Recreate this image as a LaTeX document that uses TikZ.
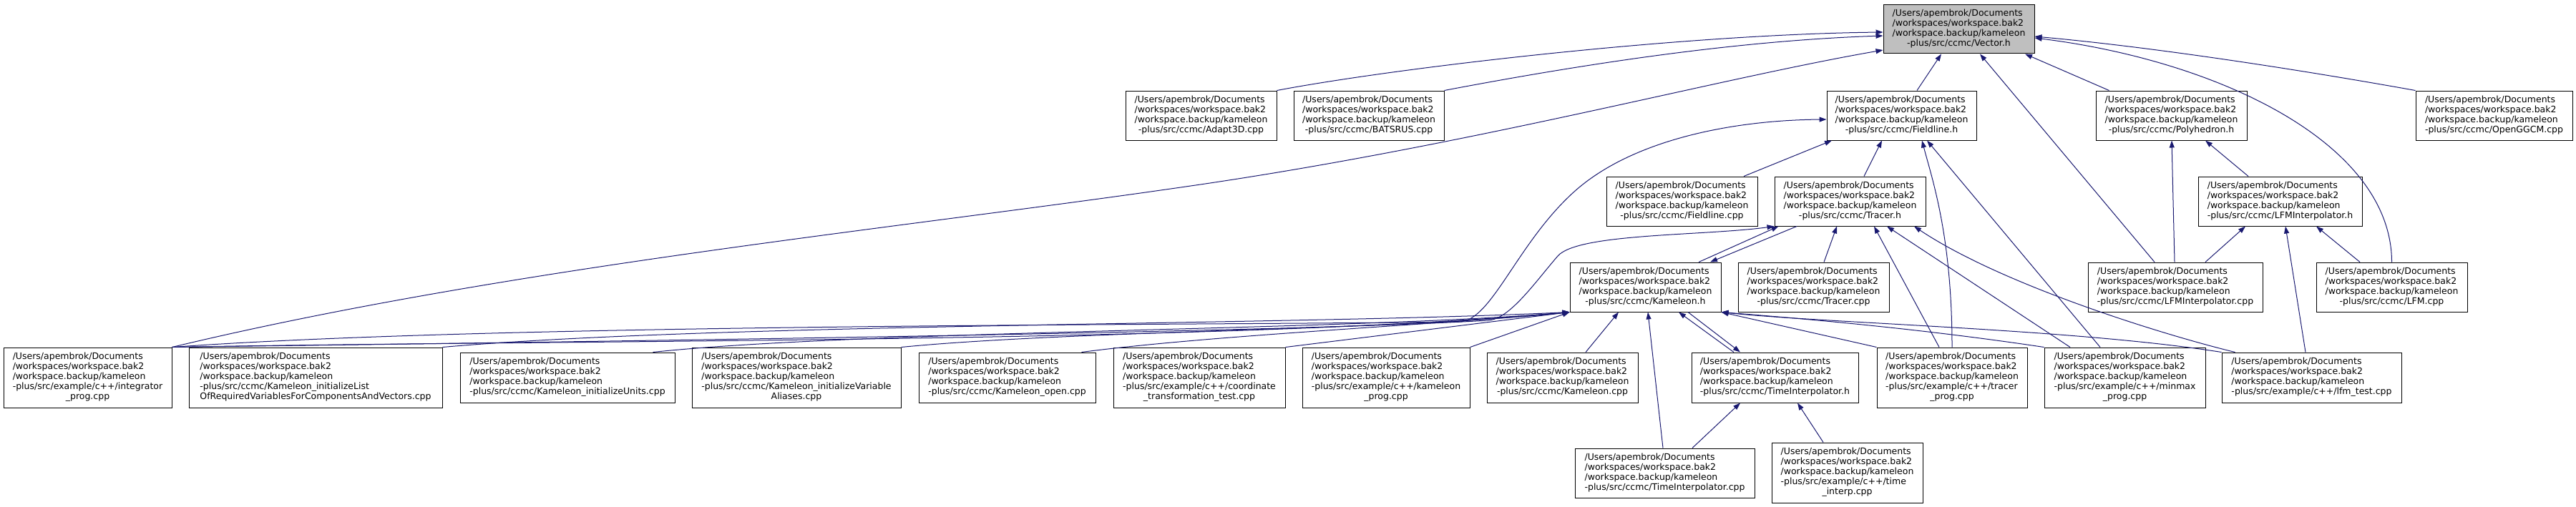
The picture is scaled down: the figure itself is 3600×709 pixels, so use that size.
\documentclass[tikz,border=0pt]{standalone}
\usepackage{fontspec}
\usepackage{tikz}
\usetikzlibrary{arrows.meta}
\newfontfamily\dvsans{DejaVu Sans}
\definecolor{edgeblue}{HTML}{191970}
\definecolor{hilite}{HTML}{BFBFBF}
\newcommand{\kprefix}{/Users/apembrok/Documents\\/workspaces/workspace.bak2\\/workspace.backup/kameleon}
\newcommand{\filefour}[1]{\begin{tabular}{@{}l@{}}\kprefix\\\multicolumn{1}{@{}c@{}}{#1}\end{tabular}}
\newcommand{\filefive}[2]{\begin{tabular}{@{}l@{}}\kprefix\\#1\\\multicolumn{1}{@{}c@{}}{#2}\end{tabular}}
\begin{document}
\begin{tikzpicture}[x=1pt, y=-1pt,
        file/.style = {draw=black, fill=white, line width=1pt, inner sep=0pt,
                       font=\dvsans\fontsize{12.5}{14}\selectfont},
        four/.style = {file, minimum height=69pt, minimum width=#1},
        five/.style = {file, minimum height=84pt, minimum width=#1},
        incl/.style = {draw=edgeblue, line width=1pt, -{Triangle[length=10pt,width=7pt]}}
        ]
        \useasboundingbox (0,0) rectangle (3600,709);
        \node[four=211pt, fill=hilite, minimum height=68pt] (vec) at (2737.5,41) {\filefour{-plus/src/ccmc/Vector.h}};

        \node[four=211pt] (adapt) at (1678.5,161.5) {\filefour{-plus/src/ccmc/Adapt3D.cpp}};
        \node[four=210pt] (bats) at (1913,161.5) {\filefour{-plus/src/ccmc/BATSRUS.cpp}};
        \node[four=209pt] (fline) at (2657.5,161.5) {\filefour{-plus/src/ccmc/Fieldline.h}};
        \node[four=211pt] (poly) at (3034.5,161.5) {\filefour{-plus/src/ccmc/Polyhedron.h}};
        \node[four=219pt] (openggcm) at (3485.5,161.5) {\filefour{-plus/src/ccmc/OpenGGCM.cpp}};

        \node[four=211pt] (flinecpp) at (2350.5,281.5) {\filefour{-plus/src/ccmc/Fieldline.cpp}};
        \node[four=211pt] (tracer) at (2585.5,281.5) {\filefour{-plus/src/ccmc/Tracer.h}};
        \node[four=229pt] (lfmint) at (3186.5,281.5) {\filefour{-plus/src/ccmc/LFMInterpolator.h}};

        \node[four=211pt] (kam) at (2299.5,401.5) {\filefour{-plus/src/ccmc/Kameleon.h}};
        \node[four=211pt] (tracercpp) at (2534.5,401.5) {\filefour{-plus/src/ccmc/Tracer.cpp}};
        \node[four=244pt] (lfmintcpp) at (3040,401.5) {\filefour{-plus/src/ccmc/LFMInterpolator.cpp}};
        \node[four=211pt] (lfmcpp) at (3342.5,401.5) {\filefour{-plus/src/ccmc/LFM.cpp}};

        \node[five=235pt] (integ) at (122.5,528) {\filefive{-plus/src/example/c++/integrator}{\_prog.cpp}};
        \node[five=354pt] (initlist) at (441,528) {\filefive{-plus/src/ccmc/Kameleon\_initializeList}{OfRequiredVariablesForComponentsAndVectors.cpp}};
        \node[four=300pt, minimum height=70pt] (initunits) at (793,528) {\filefour{-plus/src/ccmc/Kameleon\_initializeUnits.cpp}};
        \node[five=292pt] (initalias) at (1113,528) {\filefive{-plus/src/ccmc/Kameleon\_initializeVariable}{Aliases.cpp}};
        \node[four=247pt, minimum height=70pt] (kopen) at (1407.5,528) {\filefour{-plus/src/ccmc/Kameleon\_open.cpp}};
        \node[five=240pt] (coord) at (1676,528) {\filefive{-plus/src/example/c++/coordinate}{\_transformation\_test.cpp}};
        \node[five=234pt] (kprog) at (1937,528) {\filefive{-plus/src/example/c++/kameleon}{\_prog.cpp}};
        \node[four=211pt, minimum height=70pt] (kamcpp) at (2183.5,528) {\filefour{-plus/src/ccmc/Kameleon.cpp}};
        \node[four=233pt, minimum height=70pt] (tinterp) at (2480.5,528) {\filefour{-plus/src/ccmc/TimeInterpolator.h}};
        \node[five=210pt] (tracerprog) at (2728,528) {\filefive{-plus/src/example/c++/tracer}{\_prog.cpp}};
        \node[five=225pt] (minmax) at (2969.5,528) {\filefive{-plus/src/example/c++/minmax}{\_prog.cpp}};
        \node[four=251pt, minimum height=70pt] (lfmtest) at (3230.5,528) {\filefour{-plus/src/example/c++/lfm\_test.cpp}};

        \node[four=251pt] (tinterpcpp) at (2326.5,661.5) {\filefour{-plus/src/ccmc/TimeInterpolator.cpp}};
        \node[five=211pt] (timeinterp) at (2581.5,661) {\filefive{-plus/src/example/c++/time}{\_interp.cpp}};

        \draw[incl] (adapt.north east) .. controls (1950,95) and (2350,48) .. ([yshift=-4pt]vec.west);
        \draw[incl] (bats.north east) .. controls (2200,92) and (2420,57) .. ([yshift=-9pt]vec.west);
        \draw[incl] (integ.north east) .. controls (700,375) and (1250,320) .. (1650,262)
                    .. controls (2050,205) and (2400,110) .. ([yshift=-29pt]vec.west);
        \draw[incl] ([xshift=21.5pt]fline.north) -- ([xshift=-24.5pt]vec.south);
        \draw[incl] ([xshift=19pt]poly.north west) -- ([xshift=92.5pt]vec.south);
        \draw[incl] ([xshift=-29pt]lfmintcpp.north) -- ([xshift=29.5pt]vec.south);
        \draw[incl] (openggcm.north west) .. controls (3200,95) and (3000,65) .. ([yshift=-10pt]vec.east);
        \draw[incl] (lfmcpp.north) .. controls (3342,200) and (3100,85) .. ([yshift=-12pt]vec.east);

        \draw[incl] ([xshift=86.5pt]flinecpp.north) -- ([xshift=-97.5pt]fline.south);
        \draw[incl] ([xshift=19.5pt]tracer.north) -- ([xshift=-27.5pt]fline.south);
        \draw[incl] (tracerprog.north) .. controls (2728,330) and (2700,250) .. ([xshift=28.5pt]fline.south);
        \draw[incl] ([xshift=-34.5pt]minmax.north) -- ([xshift=35.5pt]fline.south);
        \draw[incl] (integ.north east) .. controls (700,452) and (1700,455) .. (2040,450)
                    .. controls (2085,448) and (2120,340) .. (2200,268)
                    .. controls (2280,196) and (2420,168) .. ([yshift=-5.5pt]fline.west);

        \draw[incl] ([xshift=14.5pt]tracercpp.north) -- ([xshift=-18.5pt]tracer.south);
        \draw[incl] ([xshift=-18pt]tracerprog.north) -- ([xshift=33.5pt]tracer.south);
        \draw[incl] ([xshift=-76.5pt]minmax.north) -- ([xshift=51.5pt]tracer.south);
        \draw[incl] ([xshift=19pt]lfmtest.north west) .. controls (3030,470) and (2800,400) .. ([xshift=89.5pt]tracer.south);
        \draw[incl] ([xshift=74.5pt]kam.north) -- ([xshift=6pt]tracer.south west);
        \draw[incl] (integ.north east) .. controls (800,478) and (1800,465) .. (2080,448)
                    .. controls (2110,446) and (2145,395) .. (2177,358)
                    .. controls (2205,326) and (2380,330) .. (tracer.south west);

        \draw[incl] ([xshift=42pt]lfmintcpp.north) -- ([xshift=-48.5pt]lfmint.south);
        \draw[incl] ([xshift=-8.5pt]lfmtest.north) -- ([xshift=7.5pt]lfmint.south);
        \draw[incl] ([xshift=-44.5pt]lfmcpp.north) -- ([xshift=50.5pt]lfmint.south);
        \draw[incl] ([xshift=-1pt]lfmintcpp.north) -- ([xshift=0.5pt]poly.south);
        \draw[incl] ([xshift=-44.5pt]lfmint.north) -- ([xshift=47.5pt]poly.south);

        \draw[incl] ([xshift=-74.5pt]tracer.south) -- ([xshift=90.5pt]kam.north);
        \draw[incl] (integ.north east) .. controls (800,475) and (1700,480) .. (kam.south west);
        \draw[incl] (initlist.north east) .. controls (1000,452) and (1800,455) .. (kam.south west);
        \draw[incl] ([xshift=-31pt]initunits.north east) .. controls (1200,462) and (1900,462) .. (kam.south west);
        \draw[incl] (initalias.north east) .. controls (1500,462) and (1950,462) .. (kam.south west);
        \draw[incl] ([xshift=-20pt]kopen.north east) .. controls (1700,468) and (2000,455) .. (kam.south west);
        \draw[incl] (coord.north east) -- (kam.south west);
        \draw[incl] (kprog.north east) -- (kam.south west);
        \draw[incl] ([xshift=32.5pt]kamcpp.north) -- ([xshift=-37.5pt]kam.south);
        \draw[incl] ([xshift=-2.5pt]tinterpcpp.north) -- ([xshift=3.5pt]kam.south);
        \draw[incl] ([xshift=-57.5pt]tinterp.north) -- ([xshift=46.5pt]kam.south);
        \draw[incl] ([xshift=59.5pt]kam.south) -- ([xshift=-48.5pt]tinterp.north);
        \draw[incl] (tracerprog.north west) -- (kam.south east);
        \draw[incl] (minmax.north west) .. controls (2700,462) and (2550,448) .. (kam.south east);
        \draw[incl] (lfmtest.north west) .. controls (2900,460) and (2550,452) .. (kam.south east);

        \draw[incl] ([xshift=38.5pt]tinterpcpp.north) -- ([xshift=-48.5pt]tinterp.south);
        \draw[incl] ([xshift=-33.5pt]timeinterp.north) -- ([xshift=31.5pt]tinterp.south);
\end{tikzpicture}
\end{document}
